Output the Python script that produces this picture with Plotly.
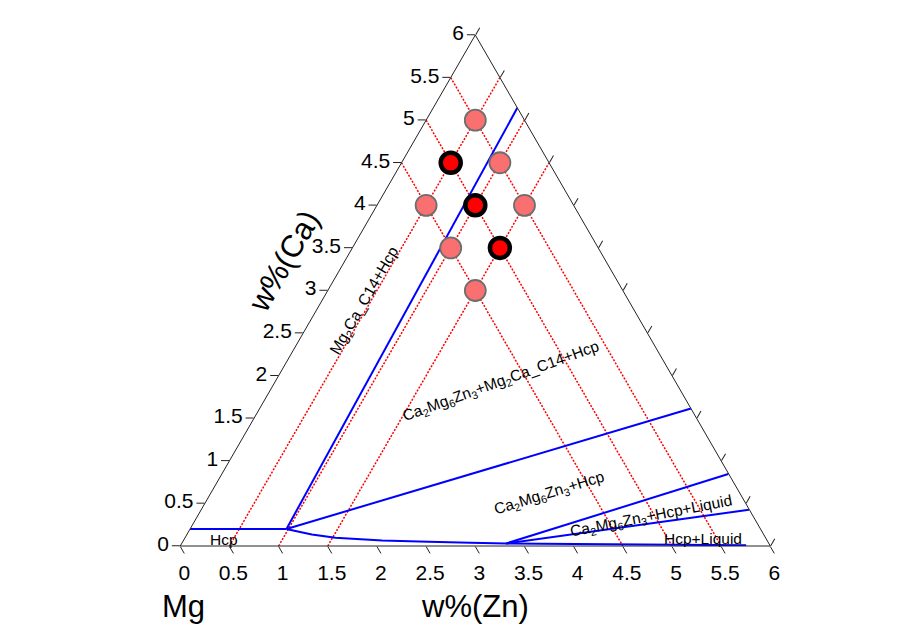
import plotly.graph_objects as go

# ---------------- data ----------------
TOTAL = 100.0          # wt.% sum (Mg is the balance)
CA_MAX = 6.0           # Ca / Zn range shown
TICK_VALUES = [0, 0.5, 1, 1.5, 2, 2.5, 3, 3.5, 4, 4.5, 5, 5.5, 6]
TICK_TEXT = ["0", "0.5", "1", "1.5", "2", "2.5", "3", "3.5", "4", "4.5", "5", "5.5", "6"]

# alloy compositions (wt.%)
ca_pink = [5.0, 4.5, 4.0, 4.0, 3.5, 3.0]
zn_pink = [0.5, 1.0, 0.5, 1.5, 1.0, 1.5]
ca_red = [4.5, 4.0, 3.5]
zn_red = [0.5, 1.0, 1.5]

# red dotted guide lines: constant Zn and constant (Ca+Zn)
grid_zn = [0.5, 1.0, 1.5]
grid_sum = [4.5, 5.0, 5.5]

# phase boundaries (Zn, Ca)
hcp_top_zn = [0.0, 0.98]
hcp_top_ca = [0.2, 0.2]
c14_zn = [0.98, 0.855]
c14_ca = [0.2, 5.145]
tie_zn = [0.98, 4.385]
tie_ca = [0.2, 1.615]
solvus_zn = [0.98, 1.11, 1.27, 1.53, 2.02, 2.5, 2.93, 3.30]
solvus_ca = [0.2, 0.17, 0.136, 0.096, 0.066, 0.05, 0.038, 0.03]
liq_up_zn = [3.30, 5.15]
liq_up_ca = [0.03, 0.845]
liq_lo_zn = [3.30, 5.57]
liq_lo_ca = [0.03, 0.425]
solidus_zn = [3.30, 5.75]
solidus_ca = [0.03, 0.008]

FONT = "Arial, Liberation Sans, sans-serif"
W, H = 910, 639
PAGE_OFFSET = 8   # default body margin of the html page


def tern(ca, zn):
    return dict(a=list(ca), b=[TOTAL - c - z for c, z in zip(ca, zn)], c=list(zn))


fig = go.Figure()

# guide lines
DOT = "2px,1.5px"
for z in grid_zn:
    fig.add_trace(go.Scatterternary(
        mode="lines", **tern([0.0, CA_MAX - z], [z, z]),
        line=dict(color="red", width=1.5, dash=DOT), hoverinfo="skip"))
for s in grid_sum:
    fig.add_trace(go.Scatterternary(
        mode="lines", **tern([s, 0.0], [0.0, s]),
        line=dict(color="red", width=1.5, dash=DOT), hoverinfo="skip"))

# phase boundaries
for zn, ca in [(hcp_top_zn, hcp_top_ca), (c14_zn, c14_ca), (tie_zn, tie_ca),
               (solvus_zn, solvus_ca), (liq_up_zn, liq_up_ca),
               (liq_lo_zn, liq_lo_ca), (solidus_zn, solidus_ca)]:
    fig.add_trace(go.Scatterternary(
        mode="lines", **tern(ca, zn),
        line=dict(color="#0000ff", width=2), hoverinfo="skip"))

# alloys
fig.add_trace(go.Scatterternary(
    mode="markers", **tern(ca_pink, zn_pink),
    marker=dict(size=21, color="rgb(250,112,112)", line=dict(color="#6e6e6e", width=1.8)),
    hoverinfo="skip"))
fig.add_trace(go.Scatterternary(
    mode="markers", **tern(ca_red, zn_red),
    marker=dict(size=20, color="#ff0000", line=dict(color="black", width=4.5)),
    hoverinfo="skip"))

axis_common = dict(
    ticks="outside", ticklen=8, tickcolor="#222", tickwidth=1,
    showgrid=False, linecolor="#222", linewidth=1,
    tickfont=dict(family=FONT, size=21, color="black"),
    title=dict(text=""),
)

# triangle placement (page pixels): centre x 475.3, centre y 290.5, height 511
xc = (475.3 - PAGE_OFFSET) / W
yc = 1 - (290.5 - PAGE_OFFSET) / H
yh = 511 / H / 2
xh = 0.335

fig.update_layout(
    width=W, height=H,
    margin=dict(l=0, r=0, t=0, b=0),
    paper_bgcolor="white",
    showlegend=False,
    ternary=dict(
        sum=TOTAL,
        bgcolor="white",
        domain=dict(x=[xc - xh, xc + xh], y=[yc - yh, yc + yh]),
        aaxis=dict(min=0, tickvals=TICK_VALUES, ticktext=TICK_TEXT, **axis_common),
        baxis=dict(min=TOTAL - CA_MAX, tickvals=[TOTAL - v for v in TICK_VALUES],
                   ticktext=TICK_TEXT, **axis_common),
        caxis=dict(min=0, tickvals=TICK_VALUES, showticklabels=False, **axis_common),
    ),
)


def ann(text, px, py, size, angle=0):
    fig.add_annotation(
        text=text, x=(px - PAGE_OFFSET) / W, y=1 - (py - PAGE_OFFSET) / H,
        xref="paper", yref="paper",
        xanchor="center", yanchor="middle", showarrow=False, textangle=angle,
        font=dict(family=FONT, size=size, color="black"))


ann("Hcp", 224, 539, 15.5)
ann("Mg<sub>2</sub>Ca_C14+Hcp", 364, 301, 15.5, -60)
ann("Ca<sub>2</sub>Mg<sub>6</sub>Zn<sub>3</sub>+Mg<sub>2</sub>Ca_C14+Hcp", 501, 381, 15.5, -20)
ann("Ca<sub>2</sub>Mg<sub>6</sub>Zn<sub>3</sub>+Hcp", 549, 493, 15.5, -17)
ann("Ca<sub>2</sub>Mg<sub>6</sub>Zn<sub>3</sub>+Hcp+Liquid", 651, 517, 15.5, -11)
ann("Hcp+Liquid", 703, 538, 15.5)
ann("w%(Ca)", 284, 262, 31, -60)
ann("w%(Zn)", 475, 606, 31)
ann("Mg", 183, 606, 31)

fig.write_html("out.html", config={"displayModeBar": False})
